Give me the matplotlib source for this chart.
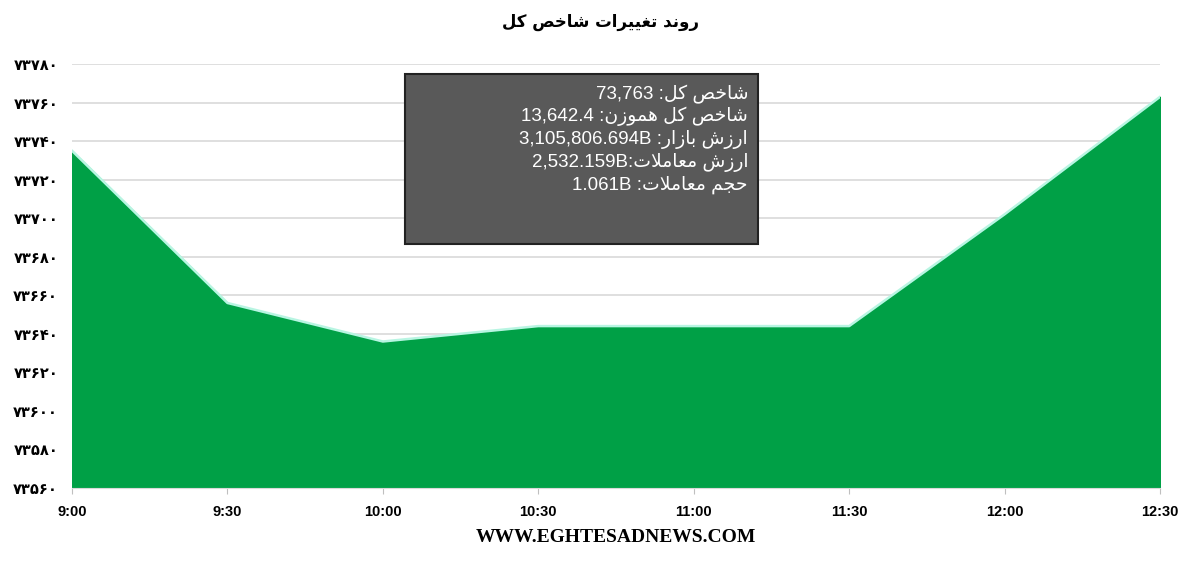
import matplotlib
matplotlib.use("Agg")
import matplotlib.pyplot as plt
from matplotlib.patches import Rectangle
from matplotlib.ticker import FuncFormatter

# ==========================================
# DATA
# ==========================================
times = ["9:00", "9:30", "10:00", "10:30", "11:00", "11:30", "12:00", "12:30"]
index_values = [73735, 73656, 73636, 73644, 73644, 73644, 73702, 73763]
y_ticks = list(range(73560, 73781, 20))

title_text = "روند تغییرات شاخص کل"
footer_text = "WWW.EGHTESADNEWS.COM"

info_labels = ["شاخص کل:", "شاخص کل هموزن:", "ارزش بازار:", "ارزش معاملات:", "حجم معاملات:"]
info_values = ["73,763 ", "13,642.4 ", "3,105,806.694B ", "2,532.159B", "1.061B "]

# ==========================================
# minimal Persian shaping (matplotlib has no RTL / joining support)
# ==========================================
FORMS = {
    'ا': ('\uFE8D', '\uFE8E', None, None),
    'د': ('\uFEA9', '\uFEAA', None, None),
    'ذ': ('\uFEAB', '\uFEAC', None, None),
    'ر': ('\uFEAD', '\uFEAE', None, None),
    'ز': ('\uFEAF', '\uFEB0', None, None),
    'و': ('\uFEED', '\uFEEE', None, None),
    'ب': ('\uFE8F', '\uFE90', '\uFE91', '\uFE92'),
    'ت': ('\uFE95', '\uFE96', '\uFE97', '\uFE98'),
    'ج': ('\uFE9D', '\uFE9E', '\uFE9F', '\uFEA0'),
    'ح': ('\uFEA1', '\uFEA2', '\uFEA3', '\uFEA4'),
    'خ': ('\uFEA5', '\uFEA6', '\uFEA7', '\uFEA8'),
    'س': ('\uFEB1', '\uFEB2', '\uFEB3', '\uFEB4'),
    'ش': ('\uFEB5', '\uFEB6', '\uFEB7', '\uFEB8'),
    'ص': ('\uFEB9', '\uFEBA', '\uFEBB', '\uFEBC'),
    'ع': ('\uFEC9', '\uFECA', '\uFECB', '\uFECC'),
    'غ': ('\uFECD', '\uFECE', '\uFECF', '\uFED0'),
    'ل': ('\uFEDD', '\uFEDE', '\uFEDF', '\uFEE0'),
    'م': ('\uFEE1', '\uFEE2', '\uFEE3', '\uFEE4'),
    'ن': ('\uFEE5', '\uFEE6', '\uFEE7', '\uFEE8'),
    'ه': ('\uFEE9', '\uFEEA', '\uFEEB', '\uFEEC'),
    'ک': ('\uFB8E', '\uFB8F', '\uFB90', '\uFB91'),
    'ی': ('\uFBFC', '\uFBFD', '\uFBFE', '\uFBFF'),
}
DUAL = {c for c, f in FORMS.items() if f[2] is not None}


def shape(txt):
    res = []
    i = 0
    n = len(txt)
    while i < n:
        c = txt[i]
        prev = txt[i - 1] if i > 0 else ''
        join_prev = prev in DUAL
        if c == 'ل' and i + 1 < n and txt[i + 1] == 'ا':
            res.append('\uFEFC' if join_prev else '\uFEFB')
            i += 2
            continue
        if c not in FORMS:
            res.append(c)
            i += 1
            continue
        nxt = txt[i + 1] if i + 1 < n else ''
        join_next = c in DUAL and nxt in FORMS
        iso, fin, ini, med = FORMS[c]
        if join_prev and join_next:
            res.append(med)
        elif join_prev:
            res.append(fin)
        elif join_next:
            res.append(ini)
        else:
            res.append(iso)
        i += 1
    return ''.join(reversed(res))


FA_DIGITS = str.maketrans("0123456789", "۰۱۲۳۴۵۶۷۸۹")

# ==========================================
# PLOT
# ==========================================
fig = plt.figure(figsize=(12, 5.72), dpi=100)
ax = fig.add_axes([0.06, 0.147, 0.9067, 0.741])

x = list(range(len(times)))
ax.fill_between(x, index_values, y_ticks[0], color='#00a046', zorder=2)
ax.plot(x, index_values, color='#b8f5e2', linewidth=1.8, zorder=3)

ax.set_xlim(0, len(times) - 1)
ax.set_ylim(y_ticks[0], y_ticks[-1])
ax.set_yticks(y_ticks)
ax.yaxis.set_major_formatter(FuncFormatter(lambda v, p: str(int(v)).translate(FA_DIGITS)))
ax.set_xticks(x)
ax.set_xticklabels(times)

ax.grid(axis='y', color='#d9d9d9', linewidth=1.2, zorder=1)
ax.set_axisbelow(True)
for s in ['top', 'right', 'left']:
    ax.spines[s].set_visible(False)
ax.spines['bottom'].set_color('#d9d9d9')
ax.tick_params(axis='y', length=0, pad=10)
ax.tick_params(axis='x', length=4, color='#bfbfbf', pad=8)

for lab in ax.get_yticklabels():
    lab.set_fontweight('bold')
    lab.set_fontsize(10.5)
    lab.set_family(['DejaVu Sans'])
for lab in ax.get_xticklabels():
    lab.set_fontweight('bold')
    lab.set_fontsize(10.5)
    lab.set_family(['Liberation Sans Narrow', 'Liberation Sans', 'DejaVu Sans'])

# title and footer
fig.text(0.5, 1 - 22 / 572, shape(title_text), ha='center', va='center',
         fontsize=12, fontweight='bold', family=['DejaVu Sans'])
fig.text(0.513, 1 - 538 / 572, footer_text, ha='center', va='center',
         fontsize=14, fontweight='bold', family=['Liberation Serif', 'DejaVu Serif'])

# info box
W, H = 1200, 572
box = Rectangle((405 / W, 1 - 244 / H), (758 - 405) / W, (244 - 74) / H,
                transform=fig.transFigure, facecolor='#595959', edgecolor='#222222',
                linewidth=1.5, zorder=5)
fig.patches.append(box)
for k, (lbl, val) in enumerate(zip(info_labels, info_values)):
    fig.text(748 / W, 1 - (94 + k * 22.7) / H, val + shape(lbl), ha='right', va='center',
             color='white', fontsize=13.5, family=['Liberation Sans', 'DejaVu Sans'], zorder=6)

plt.savefig('out.png', dpi=100)
